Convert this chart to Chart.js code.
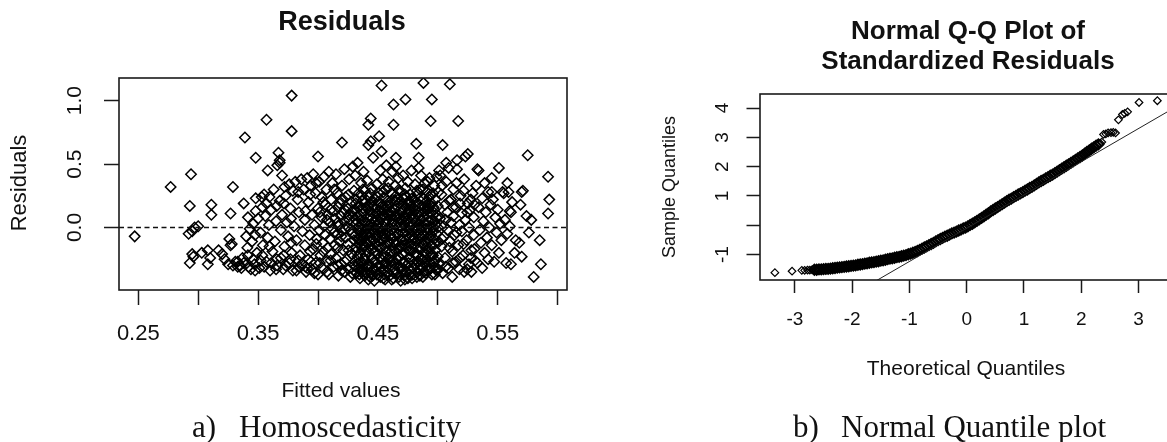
<!DOCTYPE html>
<html>
<head>
<meta charset="utf-8">
<title>Residuals and Normal Q-Q plot</title>
<script src="https://cdn.jsdelivr.net/npm/chart.js@4.4.1/dist/chart.umd.min.js"></script>
<style>
  html, body { margin: 0; padding: 0; background: #fff; overflow: hidden; width: 1167px; height: 442px; }
  canvas { position: absolute; top: 0; }
  #residChart { left: 0; width: 600px; height: 442px; }
  #qqChart { left: 600px; width: 620px; height: 442px; }
</style>
</head>
<body>
<canvas id="residChart" width="600" height="442"></canvas>
<canvas id="qqChart" width="620" height="442"></canvas>
<script>
// ---- panel a: residuals vs fitted values, [fitted, residual] ----
const residEdgeLeft = [
  [0.247,-0.07],[0.277,0.32],[0.294,0.42],[0.293,0.17],[0.292,-0.05],[0.295,-0.03],[0.297,0.00],
  [0.300,0.01],[0.295,-0.21],[0.293,-0.28],[0.296,-0.23],[0.303,-0.20],[0.308,-0.18],[0.310,-0.24],
  [0.308,-0.29],[0.311,0.18],[0.311,0.10],[0.317,-0.18],[0.320,-0.21],[0.322,-0.25],[0.325,-0.29],
  [0.327,0.11],[0.329,0.32],[0.326,-0.09],[0.328,-0.13],[0.327,-0.14],[0.329,-0.30],[0.331,-0.27]
];
const residMid = [
  [0.333,-0.31],[0.335,-0.30],[0.336,-0.32],[0.338,0.19],[0.339,0.71],[0.338,-0.28],[0.340,-0.07],
  [0.341,-0.16],[0.342,-0.31],[0.343,-0.01],[0.344,-0.33],[0.345,-0.11],[0.346,0.03],[0.346,-0.25],
  [0.348,0.55],[0.348,0.23],[0.348,0.13],[0.349,-0.20],[0.350,0.07],[0.351,-0.32],[0.352,-0.04],
  [0.353,0.24],[0.354,-0.14],[0.355,0.26],[0.356,0.09],[0.357,0.85],[0.357,0.19],[0.357,-0.27],
  [0.358,0.45],[0.358,-0.08],[0.359,0.02],[0.360,-0.34],[0.361,0.14],[0.362,-0.19],[0.363,0.30],
  [0.364,-0.11],[0.365,0.05],[0.366,0.49],[0.366,-0.30],[0.367,0.59],[0.368,0.53],[0.368,0.51],
  [0.368,0.21],[0.369,-0.02],[0.369,-0.24],[0.370,0.41],[0.370,0.10],
  [0.333,-0.27],[0.337,-0.24],[0.347,-0.29],[0.352,-0.26],[0.355,-0.31],[0.361,-0.28],[0.365,-0.33],
  [0.373,-0.30],[0.377,-0.25],[0.382,-0.34],[0.387,-0.29],[0.391,-0.32],[0.394,-0.27],[0.397,-0.36],
  [0.371,-0.33],[0.372,0.32],[0.372,-0.15],[0.373,0.25],[0.374,0.04],[0.375,-0.07],[0.376,0.34],
  [0.376,-0.28],[0.377,0.15],[0.378,1.04],[0.378,0.76],[0.378,-0.20],[0.379,0.29],[0.379,-0.34],
  [0.380,0.01],[0.381,0.36],[0.382,-0.10],[0.383,0.22],[0.384,0.12],[0.384,-0.31],[0.385,-0.22],
  [0.386,0.38],[0.387,-0.03],[0.388,0.30],[0.389,0.06],[0.389,-0.14],[0.390,-0.35],[0.391,0.39],
  [0.392,0.20],[0.392,-0.25],[0.393,-0.06],[0.394,0.33],[0.395,0.10],[0.395,-0.33],[0.396,0.42],
  [0.396,-0.17],[0.397,0.02],[0.398,0.27],[0.398,-0.28],[0.399,-0.09],[0.400,0.56],[0.400,0.15],
  [0.400,-0.37],
  [0.3415,-0.22],[0.3415,0.08],[0.3475,-0.06],[0.3475,-0.34],[0.3535,0.16],[0.3535,-0.22],[0.3595,-0.15],
  [0.3595,0.24],[0.3655,-0.25],[0.3655,0.17],[0.3715,0.19],[0.3715,-0.22],[0.3775,-0.12],[0.3775,0.07],
  [0.3835,0.28],[0.3835,-0.26],[0.3895,-0.31],[0.3895,0.13],[0.3935,0.26],[0.3935,-0.19],[0.3985,0.35],
  [0.3985,-0.13],
  [0.401,0.36],[0.401,-0.02],[0.402,-0.22],[0.403,0.08],[0.403,0.24],[0.404,-0.32],[0.404,-0.12],
  [0.405,0.40],[0.405,0.01],[0.406,0.18],[0.406,-0.06],[0.407,-0.27],[0.407,0.30],[0.408,0.10],
  [0.408,-0.16],[0.409,-0.37],[0.409,0.44],[0.410,0.04],[0.410,-0.09],[0.411,0.22],[0.411,-0.21],
  [0.412,0.35],[0.412,-0.01],[0.413,-0.31],[0.413,0.13],[0.414,-0.14],[0.414,0.07],[0.415,0.42],
  [0.415,-0.24],[0.416,0.27],[0.416,-0.05],[0.417,0.01],[0.417,-0.38],[0.418,0.19],[0.418,-0.11],
  [0.419,0.09],[0.419,-0.29],[0.420,0.67],[0.420,0.33],[0.420,-0.03],[0.421,0.12],[0.421,-0.18],
  [0.422,0.05],[0.422,0.46],[0.422,-0.35],[0.423,-0.08],[0.423,0.24],[0.424,0.01],[0.424,-0.25],
  [0.425,0.15],[0.425,-0.13],[0.426,0.38],[0.426,0.06],[0.427,-0.39],[0.427,-0.02],[0.428,0.20],
  [0.428,-0.21],[0.429,0.09],[0.429,0.48],[0.430,-0.10],[0.430,-0.30],[0.430,0.29],
  [0.4015,-0.28],[0.4015,0.12],[0.4045,-0.19],[0.4045,0.20],[0.4075,0.06],[0.4075,-0.35],[0.4105,-0.26],
  [0.4105,0.14],[0.4135,0.30],[0.4135,-0.04]
];
const residDense = [
  [0.431,-0.06],[0.431,0.14],[0.431,-0.27],[0.431,0.41],[0.432,0.03],[0.432,-0.16],[0.432,-0.36],[0.432,0.22],
  [0.433,-0.09],[0.433,0.09],[0.433,-0.23],[0.433,0.51],[0.434,0.01],[0.434,-0.32],[0.434,0.27],[0.434,-0.13],
  [0.435,0.17],[0.435,-0.04],[0.435,-0.20],[0.435,-0.40],[0.436,0.06],[0.436,-0.11],[0.436,0.35],[0.436,-0.28],
  [0.437,-0.02],[0.437,0.21],[0.437,-0.17],[0.437,-0.35],[0.438,0.11],[0.438,-0.08],[0.438,-0.25],[0.438,0.44],
  [0.439,0.04],[0.439,-0.14],[0.439,-0.38],[0.439,0.29],[0.440,-0.05],[0.440,0.16],[0.440,-0.22],[0.440,-0.31],
  [0.441,0.08],[0.441,-0.12],[0.441,0.00],[0.441,0.37],[0.442,0.81],[0.442,0.65],[0.442,-0.19],[0.442,-0.41],
  [0.442,0.24],[0.443,0.02],[0.443,-0.07],[0.443,-0.29],[0.443,0.13],[0.444,0.86],[0.444,0.68],[0.444,-0.15],
  [0.444,0.19],[0.444,-0.36],[0.445,-0.02],[0.445,0.07],[0.445,-0.24],[0.445,0.31],[0.446,0.11],[0.446,-0.10],
  [0.446,-0.33],[0.446,0.55],[0.447,-0.04],[0.447,0.23],[0.447,-0.19],[0.447,-0.42],[0.448,0.05],[0.448,-0.13],
  [0.448,0.15],[0.448,-0.27],[0.449,-0.08],[0.449,0.34],[0.449,-0.37],[0.449,0.01],[0.450,0.09],[0.450,-0.21],
  [0.450,0.20],[0.450,-0.03],[0.451,0.72],[0.451,-0.11],[0.451,0.04],[0.451,-0.30],[0.451,0.27],[0.452,-0.16],
  [0.452,0.13],[0.452,-0.39],[0.452,0.45],[0.453,1.12],[0.453,0.60],[0.453,-0.06],[0.453,0.07],[0.453,-0.25],
  [0.454,0.18],[0.454,-0.01],[0.454,-0.33],[0.454,0.38],[0.455,-0.14],[0.455,0.10],[0.455,-0.22],[0.455,0.24],
  [0.456,0.03],[0.456,-0.08],[0.456,-0.41],[0.456,0.30],[0.457,-0.18],[0.457,0.15],[0.457,-0.28],[0.457,0.49],
  [0.458,0.06],[0.458,-0.04],[0.458,-0.35],[0.458,0.21],[0.459,-0.12],[0.459,0.12],[0.459,0.36],[0.459,-0.24],
  [0.460,0.00],[0.460,-0.20],[0.460,0.18],[0.460,-0.38],[0.461,0.09],[0.461,-0.09],[0.461,-0.30],[0.461,0.27],
  [0.462,-0.02],[0.462,0.22],[0.462,-0.16],[0.462,0.44],[0.463,0.97],[0.463,0.81],[0.463,0.05],[0.463,-0.26],
  [0.463,-0.40],[0.464,-0.07],[0.464,0.14],[0.464,-0.33],[0.464,0.33],[0.465,0.55],[0.465,0.48],[0.465,0.02],
  [0.465,-0.19],[0.465,0.25],[0.466,-0.11],[0.466,0.08],[0.466,-0.36],[0.466,0.17],[0.467,0.04],[0.467,-0.05],
  [0.467,-0.23],[0.467,0.39],[0.468,-0.15],[0.468,0.19],[0.468,-0.31],[0.468,0.10],[0.469,0.00],[0.469,-0.42],
  [0.469,0.28],[0.469,-0.09],[0.470,0.13],[0.470,-0.21],[0.470,0.06],[0.470,-0.34],[0.471,-0.04],[0.471,0.23],
  [0.471,-0.14],[0.471,0.41],[0.472,0.09],[0.472,-0.27],[0.472,0.02],[0.472,-0.38],[0.473,1.01],[0.473,-0.10],
  [0.473,0.16],[0.473,-0.20],[0.473,0.31],[0.474,0.05],[0.474,-0.30],[0.474,0.11],[0.474,-0.06],[0.475,-0.16],
  [0.475,0.20],[0.475,-0.40],[0.475,0.36],[0.476,0.01],[0.476,0.14],[0.476,-0.24],[0.476,-0.08],[0.477,0.08],
  [0.477,-0.13],[0.477,0.26],[0.477,-0.33],[0.478,-0.03],[0.478,0.17],[0.478,-0.19],[0.478,0.45],[0.479,0.11],
  [0.479,-0.27],[0.479,0.03],[0.479,-0.37],[0.480,-0.08],[0.480,0.22],[0.480,-0.15],[0.480,0.07],[0.481,0.14],
  [0.481,-0.01],[0.481,-0.30],[0.481,0.34],[0.482,0.66],[0.482,-0.11],[0.482,0.05],[0.482,-0.22],[0.482,0.18],
  [0.483,-0.05],[0.483,0.26],[0.483,-0.35],[0.483,0.10],[0.484,0.55],[0.484,0.47],[0.484,0.02],[0.484,-0.17],
  [0.484,-0.27],[0.485,0.12],[0.485,-0.09],[0.485,0.30],[0.485,-0.38],[0.486,-0.02],[0.486,0.06],[0.486,-0.24],
  [0.486,0.41],[0.487,0.17],[0.487,-0.13],[0.487,-0.32],[0.487,0.00],[0.488,1.14],[0.488,0.08],[0.488,-0.06],
  [0.488,-0.20],[0.488,0.23],[0.489,-0.11],[0.489,0.13],[0.489,-0.29],[0.489,0.35],[0.490,0.03],[0.490,-0.16],
  [0.490,0.20],[0.490,-0.36],[0.491,-0.04],[0.491,0.10],[0.491,-0.25],[0.491,0.28],[0.492,0.15],[0.492,-0.12],
  [0.492,0.05],[0.492,-0.33],[0.493,-0.07],[0.493,0.24],[0.493,-0.19],[0.493,0.39],[0.494,0.84],[0.494,0.01],
  [0.494,-0.28],[0.494,0.12],[0.495,1.01],[0.495,-0.14],[0.495,0.19],[0.495,-0.37],[0.495,0.06],[0.496,-0.03],
  [0.496,0.27],[0.496,-0.22],[0.496,0.10],[0.497,0.14],[0.497,-0.09],[0.497,-0.31],[0.497,0.33],[0.498,0.02],
  [0.498,-0.18],[0.498,0.22],[0.498,-0.26],[0.499,-0.05],[0.499,0.08],[0.499,-0.34],[0.499,0.40],[0.500,0.17],
  [0.500,-0.12],[0.500,0.00],[0.500,-0.23]
];
const residDenseFill = [
  [0.4165,-0.30],[0.4165,-0.16],[0.4165,0.04],[0.4165,0.16],[0.4195,-0.34],[0.4195,-0.07],[0.4195,0.22],
  [0.4225,-0.27],[0.4225,-0.01],[0.4225,0.14],[0.4255,-0.33],[0.4255,-0.18],[0.4255,0.10],[0.4255,0.26],
  [0.4285,-0.36],[0.4285,-0.05],[0.4285,0.13],[0.4315,-0.31],[0.4315,-0.19],[0.4315,0.06],[0.4315,0.19],
  [0.4345,-0.37],[0.4345,-0.09],[0.4345,0.10],[0.4375,-0.30],[0.4375,-0.06],[0.4375,0.15],[0.4375,0.30],
  [0.4405,-0.36],[0.4405,-0.18],[0.4405,0.04],[0.4435,-0.39],[0.4435,-0.11],[0.4435,0.09],[0.4435,0.27],
  [0.4465,-0.27],[0.4465,-0.02],[0.4465,0.17],[0.4495,-0.31],[0.4495,-0.15],[0.4495,0.06],[0.4495,0.24],
  [0.4525,-0.35],[0.4525,-0.03],[0.4525,0.16],[0.4555,-0.37],[0.4555,-0.28],[0.4555,-0.05],[0.4555,0.14],
  [0.4585,-0.25],[0.4585,-0.12],[0.4585,0.10],[0.4585,0.31],[0.4615,-0.41],[0.4615,-0.19],[0.4615,0.03],
  [0.4645,-0.29],[0.4645,-0.13],[0.4645,0.21],[0.4675,-0.39],[0.4675,-0.17],[0.4675,0.07],[0.4675,0.30],
  [0.4705,-0.28],[0.4705,-0.10],[0.4705,0.19],[0.4735,-0.35],[0.4735,-0.03],[0.4735,0.24],[0.4765,-0.37],
  [0.4765,-0.18],[0.4765,0.04],[0.4765,0.20],[0.4795,-0.32],[0.4795,-0.10],[0.4795,0.16],[0.4825,-0.39],
  [0.4825,-0.27],[0.4825,-0.02],[0.4825,0.29],[0.4855,-0.30],[0.4855,-0.16],[0.4855,0.21],[0.4885,-0.35],
  [0.4885,-0.13],[0.4885,0.03],[0.4915,-0.30],[0.4915,-0.09],[0.4915,0.17],[0.4915,0.36],[0.4945,-0.22],
  [0.4945,-0.06],[0.4945,0.26],[0.4975,-0.37],[0.4975,-0.13],[0.4975,0.05],[0.5005,-0.33],[0.5005,0.09],
  [0.5005,0.28]
];
const residCoreFill = [
  [0.4335,-0.02],[0.4335,-0.28],[0.4335,0.16],[0.4365,-0.33],[0.4365,-0.14],[0.4365,0.02],[0.4365,0.25],
  [0.4395,-0.26],[0.4395,-0.03],[0.4395,0.20],[0.4425,-0.31],[0.4425,-0.04],[0.4425,0.17],[0.4455,-0.38],
  [0.4455,-0.17],[0.4455,0.02],[0.4455,0.21],[0.4485,-0.34],[0.4485,-0.06],[0.4485,0.11],[0.4515,-0.24],
  [0.4515,-0.01],[0.4515,0.19],[0.4545,-0.40],[0.4545,-0.10],[0.4545,0.09],[0.4545,0.28],[0.4575,-0.31],
  [0.4575,-0.01],[0.4575,0.17],[0.4605,-0.27],[0.4605,-0.06],[0.4605,0.13],[0.4635,-0.36],[0.4635,-0.11],
  [0.4635,0.09],[0.4665,-0.25],[0.4665,0.00],[0.4665,0.22],[0.4695,-0.32],[0.4695,-0.15],[0.4695,0.15],
  [0.4725,-0.41],[0.4725,-0.14],[0.4725,0.08],[0.4725,0.26],[0.4755,-0.28],[0.4755,-0.02],[0.4755,0.12],
  [0.4785,-0.40],[0.4785,-0.07],[0.4785,0.23],[0.4815,-0.20],[0.4815,0.00],[0.4815,0.20],[0.4845,-0.33],
  [0.4845,-0.06],[0.4845,0.09],[0.4875,-0.39],[0.4875,-0.25],[0.4875,0.12],[0.4875,0.30],[0.4905,-0.21],
  [0.4905,-0.01],[0.4905,0.14],[0.4935,-0.33],[0.4935,-0.02],[0.4935,0.18],[0.4965,-0.27],[0.4965,0.00],
  [0.4965,0.16]
];
const residEdgeRight = [
  [0.501,0.45],[0.501,-0.29],[0.502,0.41],[0.502,0.07],[0.503,-0.15],[0.503,0.26],[0.504,-0.36],[0.504,0.65],
  [0.505,0.01],[0.505,-0.07],[0.506,0.18],[0.506,-0.24],[0.507,0.51],[0.507,0.36],[0.508,-0.02],[0.508,0.12],
  [0.509,-0.32],[0.509,0.47],[0.510,-0.11],[0.510,1.13],[0.511,0.22],[0.511,0.04],[0.512,-0.19],[0.512,-0.39],
  [0.513,0.30],[0.513,0.09],[0.514,-0.06],[0.515,-0.27],[0.515,0.16],[0.516,0.53],[0.516,0.46],[0.517,0.84],
  [0.517,-0.14],[0.518,0.02],[0.518,-0.33],[0.519,0.25],[0.520,-0.03],[0.520,0.11],[0.521,-0.22],[0.522,0.38],
  [0.522,-0.35],[0.523,0.56],[0.523,0.06],[0.524,-0.10],[0.525,0.58],[0.525,0.19],[0.526,-0.29],[0.526,0.00],
  [0.527,0.14],[0.528,-0.18],[0.528,-0.35],[0.529,0.27],[0.530,0.08],[0.530,-0.06],
  [0.5035,0.33],[0.5035,-0.09],[0.5065,-0.31],[0.5065,0.06],[0.5095,0.21],[0.5095,-0.16],[0.5125,0.16],
  [0.5125,-0.28],[0.5155,-0.04],[0.5155,0.35],[0.5185,0.19],[0.5185,-0.24],[0.5215,-0.13],[0.5215,0.29],
  [0.5245,0.12],[0.5245,-0.33],[0.5275,-0.24],[0.5275,0.22],[0.5305,0.18],[0.5305,-0.17],
  [0.531,-0.26],[0.532,0.33],[0.533,0.46],[0.533,-0.28],[0.534,0.45],[0.534,0.16],[0.535,-0.02],[0.536,-0.12],
  [0.537,0.23],[0.537,-0.32],[0.538,0.05],[0.539,0.35],[0.539,-0.20],[0.540,0.12],[0.541,-0.08],[0.542,0.28],
  [0.542,-0.25],[0.543,0.00],[0.544,0.18],[0.545,0.39],[0.545,0.28],[0.545,-0.14],[0.546,0.22],[0.547,-0.27],
  [0.548,0.08],[0.549,-0.04],[0.550,0.14],[0.551,0.47],[0.551,-0.20],[0.552,0.03],[0.553,-0.10],[0.554,0.28],
  [0.555,0.27],[0.556,0.06],[0.557,-0.28],[0.558,0.35],[0.558,-0.05],[0.559,0.28],[0.560,0.01],[0.560,0.13],
  [0.561,-0.29],[0.561,0.12],[0.562,0.20],[0.564,-0.20],[0.565,-0.10],[0.568,-0.12],[0.569,0.18],[0.570,-0.23],
  [0.570,0.28],[0.571,0.29],[0.574,0.09],[0.575,0.57],[0.576,-0.04],[0.578,0.06],[0.580,-0.39],[0.585,-0.10],
  [0.586,-0.29],[0.592,0.40],[0.593,0.22],[0.592,0.11]
];
const residXMin = 0.2339, residXMax = 0.6078, residYMin = -0.493, residYMax = 1.179;
const residZero = 0;
const residXTicks = [0.25, 0.30, 0.35, 0.40, 0.45, 0.50, 0.55, 0.60];
const residXLabels = ['0.25', '', '0.35', '', '0.45', '', '0.55', ''];
const residYTicks = [0, 0.5, 1.0];
const residYLabels = ['0.0', '0.5', '1.0'];

// ---- panel b: normal Q-Q plot, [theoretical, sample] ----
const qqLowTail = [
  [-3.35,-1.62],[-3.05,-1.57],[-2.88,-1.54],[-2.83,-1.54],[-2.78,-1.53],[-2.74,-1.53],[-2.70,-1.52],[-2.46,-1.53]
];
const qqBody = [
  [-2.66,-1.52],[-2.62,-1.52],[-2.58,-1.51],[-2.54,-1.51],[-2.50,-1.50],[-2.46,-1.49],[-2.42,-1.49],[-2.38,-1.48],
  [-2.34,-1.47],[-2.30,-1.46],[-2.26,-1.45],[-2.22,-1.44],[-2.18,-1.43],[-2.14,-1.42],[-2.10,-1.41],[-2.06,-1.40],
  [-2.02,-1.39],[-1.98,-1.38],[-1.94,-1.37],[-1.90,-1.35],[-1.86,-1.34],[-1.82,-1.33],[-1.78,-1.31],[-1.74,-1.30],
  [-1.70,-1.28],[-1.66,-1.27],[-1.62,-1.26],[-1.58,-1.24],[-1.54,-1.23],[-1.50,-1.21],[-1.46,-1.20],[-1.42,-1.18],
  [-1.38,-1.16],[-1.34,-1.14],[-1.30,-1.13],[-1.26,-1.11],[-1.22,-1.09],[-1.18,-1.08],[-1.14,-1.06],[-1.10,-1.04],
  [-1.06,-1.02],[-1.02,-0.99],[-0.98,-0.97],[-0.94,-0.94],[-0.90,-0.91],[-0.86,-0.88],[-0.82,-0.84],[-0.78,-0.80],
  [-0.74,-0.76],[-0.70,-0.72],[-0.66,-0.68],[-0.62,-0.64],[-0.58,-0.60],[-0.54,-0.55],[-0.50,-0.51],[-0.46,-0.47],
  [-0.42,-0.43],[-0.38,-0.39],[-0.34,-0.36],[-0.30,-0.32],[-0.26,-0.28],[-0.22,-0.25],[-0.18,-0.22],[-0.14,-0.18],
  [-0.10,-0.15],[-0.06,-0.11],[-0.02,-0.08],[0.02,-0.04],[0.06,0.01],[0.10,0.05],[0.14,0.10],[0.18,0.15],
  [0.22,0.20],[0.26,0.25],[0.30,0.30],[0.34,0.36],[0.38,0.41],[0.42,0.47],[0.46,0.52],[0.50,0.57],
  [0.54,0.62],[0.58,0.67],[0.62,0.72],[0.66,0.77],[0.70,0.82],[0.74,0.87],[0.78,0.91],[0.82,0.96],
  [0.86,1.00],[0.90,1.05],[0.94,1.09],[0.98,1.13],[1.02,1.18],[1.06,1.22],[1.10,1.27],[1.14,1.31],
  [1.18,1.36],[1.22,1.41],[1.26,1.46],[1.30,1.51],[1.34,1.55],[1.38,1.60],[1.42,1.64],[1.46,1.69],
  [1.50,1.73],[1.54,1.78],[1.58,1.83],[1.62,1.88],[1.66,1.93],[1.70,1.98],[1.74,2.03],[1.78,2.08],
  [1.82,2.13],[1.86,2.18],[1.90,2.23],[1.94,2.28],[1.98,2.33],[2.02,2.38],[2.06,2.44],[2.10,2.50],
  [2.14,2.55],[2.18,2.61],[2.22,2.66],[2.26,2.72],[2.30,2.76]
];
const qqHighTail = [
  [2.33,2.80],[2.36,2.84],[2.39,3.10],[2.43,3.12],[2.47,3.15],[2.52,3.16],[2.56,3.17],[2.60,3.15],
  [2.65,3.60],[2.72,3.78],[2.76,3.82],[2.81,3.87],[3.01,4.19],[3.33,4.25]
];
const qqLineX = [-1.62, 3.90];
const qqLineY = [-1.94, 4.32];
const qqXMin = -3.61, qqXMax = 3.90, qqYMin = -1.87, qqYMax = 4.48;
const qqXTicks = [-3, -2, -1, 0, 1, 2, 3];
const qqXLabels = ['-3', '-2', '-1', '0', '1', '2', '3'];
const qqYTicks = [-1, 0, 1, 2, 3, 4];
const qqYLabels = ['-1', '', '1', '2', '3', '4'];

const SANS = "'Liberation Sans', Arial, sans-serif";
const SERIF = "'Liberation Serif', 'Times New Roman', serif";
const INK = '#111';

const toXY = arr => arr.map(p => ({ x: p[0], y: p[1] }));

// box, rotated y labels, titles and caption, drawn R-style
const rFrame = {
  id: 'rFrame',
  afterDatasetsDraw(chart, args, o) {
    const { ctx, chartArea: a, scales } = chart;
    ctx.save();
    ctx.strokeStyle = '#1a1a1a';
    ctx.lineWidth = 1.6;
    ctx.strokeRect(a.left, a.top, a.right - a.left, a.bottom - a.top);

    ctx.fillStyle = INK;
    ctx.textAlign = 'center';
    ctx.textBaseline = 'middle';
    ctx.font = o.yTickFont;
    o.yTicks.forEach((v, i) => {
      if (!o.yLabels[i]) return;
      const py = scales.y.getPixelForValue(v);
      ctx.save();
      ctx.translate(o.yTickX, py);
      ctx.rotate(-Math.PI / 2);
      ctx.fillText(o.yLabels[i], 0, 0);
      ctx.restore();
    });

    ctx.font = o.titleFont;
    o.title.forEach((t, i) => ctx.fillText(t, o.titleX, o.titleY[i]));

    ctx.font = o.xTitleFont;
    ctx.fillText(o.xTitle, o.xTitlePos[0], o.xTitlePos[1]);

    ctx.font = o.yTitleFont;
    ctx.save();
    ctx.translate(o.yTitlePos[0], o.yTitlePos[1]);
    ctx.rotate(-Math.PI / 2);
    ctx.fillText(o.yTitle, 0, 0);
    ctx.restore();

    ctx.font = o.captionFont;
    ctx.textAlign = 'left';
    ctx.textBaseline = 'alphabetic';
    ctx.fillText(o.caption[0], o.captionPos[0], o.captionPos[2]);
    ctx.fillText(o.caption[1], o.captionPos[1], o.captionPos[2]);
    ctx.restore();
  }
};

function axisX(min, max, ticks, labels, size, height, tickLen, pad) {
  return {
    type: 'linear', min: min, max: max, bounds: 'data',
    afterBuildTicks: s => { s.ticks = ticks.map(v => ({ value: v })); },
    afterFit: s => { s.height = height; },
    border: { display: false },
    grid: { display: true, drawOnChartArea: false, drawTicks: true, tickLength: tickLen,
            tickColor: '#1a1a1a', tickWidth: 1.5 },
    ticks: { autoSkip: false, maxRotation: 0, minRotation: 0, padding: pad, color: INK,
             font: { family: SANS, size: size }, callback: (v, i) => labels[i] }
  };
}

function axisY(min, max, ticks, width, tickLen) {
  return {
    type: 'linear', min: min, max: max, bounds: 'data',
    afterBuildTicks: s => { s.ticks = ticks.map(v => ({ value: v })); },
    afterFit: s => { s.width = width; },
    border: { display: false },
    grid: { display: true, drawOnChartArea: false, drawTicks: true, tickLength: tickLen,
            tickColor: '#1a1a1a', tickWidth: 1.5 },
    ticks: { display: false }
  };
}

function hollow(points, radius, width) {
  return {
    data: toXY(points),
    pointStyle: 'rectRot',
    pointRadius: radius,
    pointBorderWidth: width,
    pointBorderColor: '#000',
    pointBackgroundColor: 'rgba(0,0,0,0)',
    order: 2
  };
}

document.addEventListener('DOMContentLoaded', function () {
  const residAll = residEdgeLeft.concat(residMid, residDense, residDenseFill, residCoreFill, residEdgeRight);

  new Chart(document.getElementById('residChart'), {
    type: 'scatter',
    data: {
      datasets: [hollow(residAll, 5.2, 1.5), {
        type: 'line',
        data: [{ x: residXMin, y: residZero }, { x: residXMax, y: residZero }],
        borderColor: '#111',
        borderWidth: 1.6,
        borderDash: [5, 3.5],
        pointRadius: 0,
        order: 1
      }]
    },
    options: {
      responsive: false,
      animation: false,
      events: [],
      layout: { padding: { top: 78, right: 33, bottom: 0, left: 0 } },
      scales: {
        x: axisX(residXMin, residXMax, residXTicks, residXLabels, 22, 152, 15, 15.5),
        y: axisY(residYMin, residYMax, residYTicks, 119, 15)
      },
      plugins: {
        legend: { display: false },
        tooltip: { enabled: false },
        rFrame: {
          yTicks: residYTicks, yLabels: residYLabels, yTickX: 75, yTickFont: '21px ' + SANS,
          title: ['Residuals'], titleX: 342, titleY: [23], titleFont: 'bold 27px ' + SANS,
          xTitle: 'Fitted values', xTitlePos: [341, 391], xTitleFont: '21px ' + SANS,
          yTitle: 'Residuals', yTitlePos: [20, 183], yTitleFont: '22px ' + SANS,
          caption: ['a)', 'Homoscedasticity'], captionPos: [192, 239, 437], captionFont: '31px ' + SERIF
        }
      }
    },
    plugins: [rFrame]
  });

  new Chart(document.getElementById('qqChart'), {
    type: 'scatter',
    data: {
      datasets: [hollow(qqLowTail, 3.8, 1.2), hollow(qqBody, 5.0, 2.0), hollow(qqHighTail, 3.8, 1.2), {
        type: 'line',
        data: qqLineX.map((x, i) => ({ x: x, y: qqLineY[i] })),
        borderColor: '#222',
        borderWidth: 1,
        pointRadius: 0,
        order: 1
      }]
    },
    options: {
      responsive: false,
      animation: false,
      events: [],
      layout: { padding: { top: 94, right: 30, bottom: 0, left: 0 } },
      scales: {
        x: axisX(qqXMin, qqXMax, qqXTicks, qqXLabels, 19, 162, 13, 15),
        y: axisY(qqYMin, qqYMax, qqYTicks, 160, 13.5)
      },
      plugins: {
        legend: { display: false },
        tooltip: { enabled: false },
        rFrame: {
          yTicks: qqYTicks, yLabels: qqYLabels, yTickX: 123, yTickFont: '19px ' + SANS,
          title: ['Normal Q-Q Plot of', 'Standardized Residuals'], titleX: 368, titleY: [32, 62],
          titleFont: 'bold 26px ' + SANS,
          xTitle: 'Theoretical Quantiles', xTitlePos: [366, 369], xTitleFont: '21px ' + SANS,
          yTitle: 'Sample Quantiles', yTitlePos: [70, 187], yTitleFont: '18px ' + SANS,
          caption: ['b)', 'Normal Quantile plot'], captionPos: [193, 241, 437], captionFont: '31px ' + SERIF
        }
      }
    },
    plugins: [rFrame]
  });
});
</script>
</body>
</html>
